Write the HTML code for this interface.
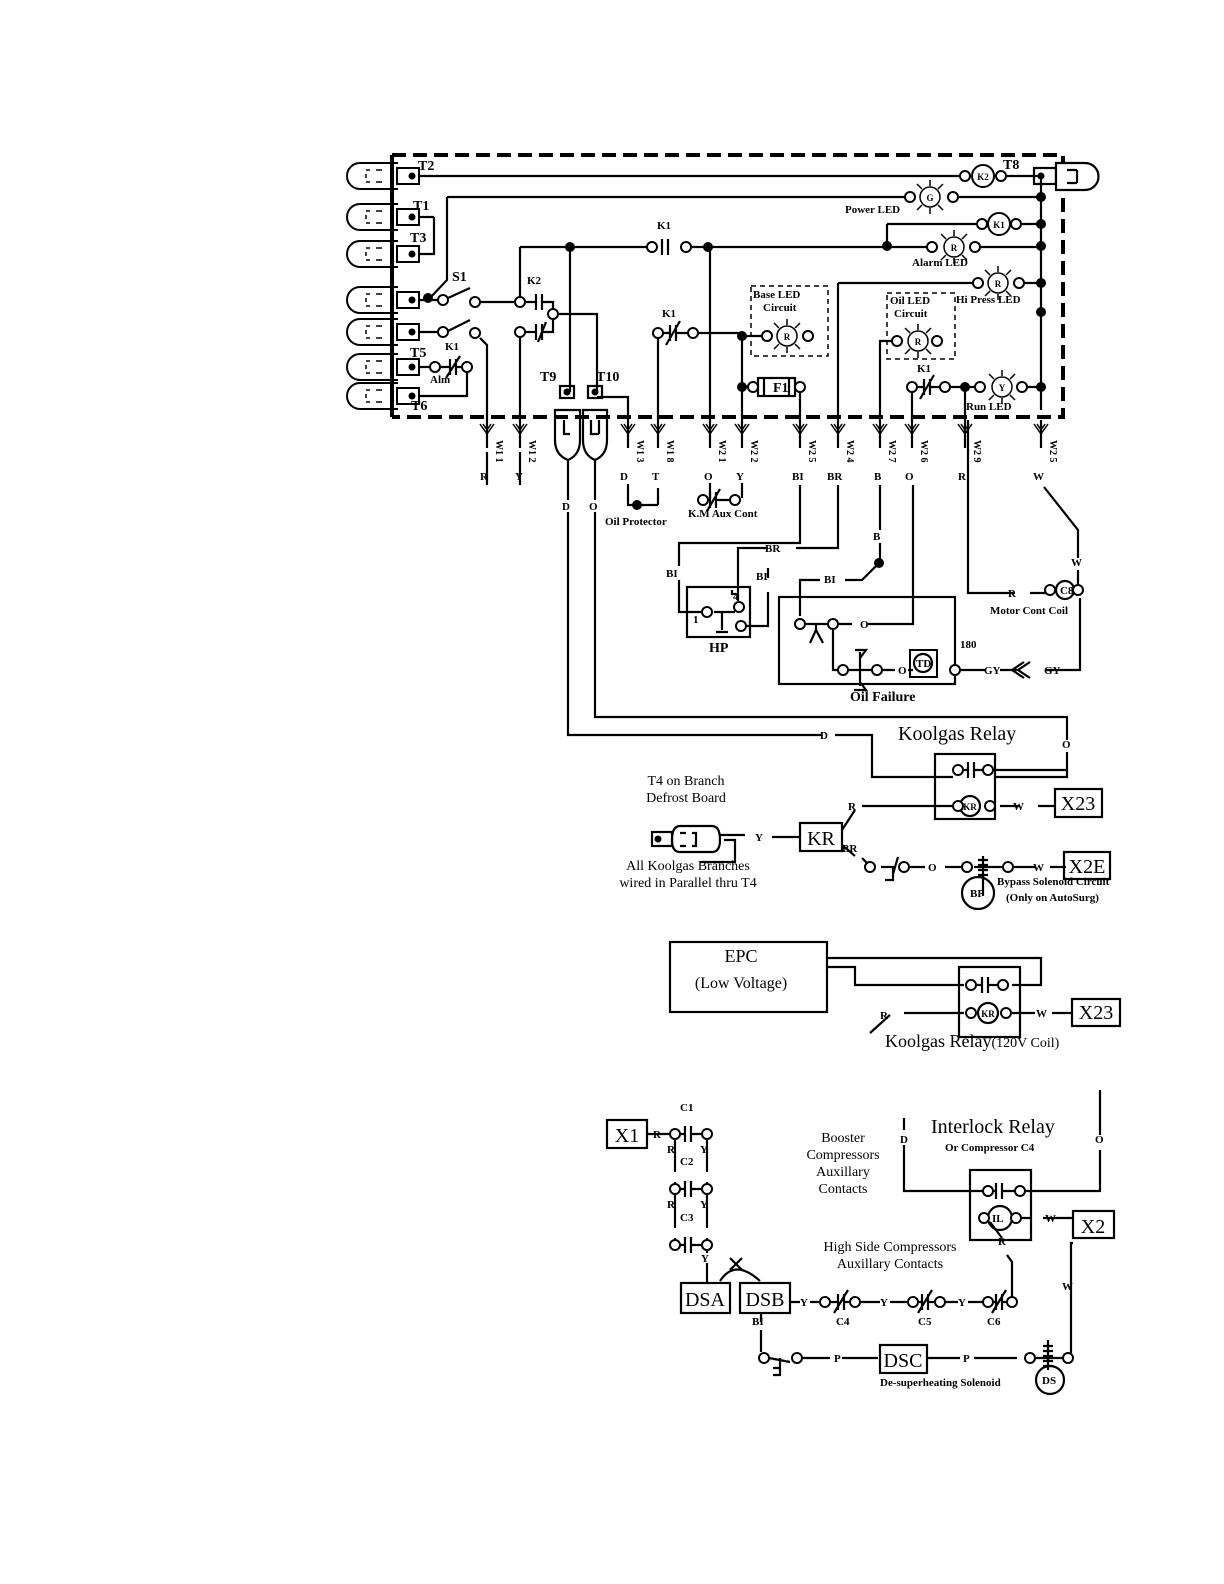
<!DOCTYPE html>
<html><head><meta charset="utf-8"><style>
body{margin:0;background:#fff}
svg{display:block}
text{font-family:"Liberation Serif",serif;fill:#000}
.s{font-size:11px;font-weight:bold}
.m{font-size:14px}
.b{font-size:20px}
.t{font-size:9px;font-weight:bold}
</style></head><body>
<svg width="1224" height="1584" viewBox="0 0 1224 1584" xmlns="http://www.w3.org/2000/svg">
<defs>
<g id="conn"><path d="M398,-13 H360 A13,13 0 0 0 360,13 H398" fill="none" stroke="#000" stroke-width="2"/><path d="M366,-6 h4 M376,-6 h6 M366,6 h4 M376,6 h6 M366,-2 v4" stroke="#000" stroke-width="1.5"/><rect x="397" y="-8" width="22" height="16" fill="#fff" stroke="#000" stroke-width="2"/><circle cx="412" cy="0" r="3.5"/></g>
<g id="fork"><path d="M-7,-8 L0,2 L7,-8 M-4,-8 L0,-2 L4,-8 M0,-10 V10" stroke="#000" stroke-width="1.5" fill="none"/></g>
<g id="led"><circle r="10" fill="#fff" stroke="#000" stroke-width="1.5"/><path d="M0,-11 v-6 M0,11 v6 M8,-8 l5,-5 M-8,-8 l-5,-5 M8,8 l5,5 M-8,8 l-5,5" stroke="#000" stroke-width="1.5"/></g>
</defs>
<g stroke="#000" stroke-width="2.2" fill="none">
<path d="M392,155 V417" stroke-width="4"/>
<path d="M392,155 H1063 V417 H392" stroke-width="4" stroke-dasharray="14,7"/>
<path d="M412,176 H960 M1006,176 H1041"/>
<path d="M447,197 H905 M958,197 H1041"/>
<path d="M447,197 V280 L430,298"/>
<path d="M1041,176 V410"/>
<path d="M887,224 H977 M1021,224 H1041 M887,224 V246"/>
<path d="M520,247 H647 M691,247 H927 M980,247 H1041"/>
<path d="M838,283 H973 M1024,283 H1041 M838,283 V420"/>
<path d="M434,217 V254 H412 M434,217 H412"/>
<path d="M412,300 H438 M448,298 L470,288 M412,332 H438 M448,331 L470,320 M479,302 H515 M480,338 L487,345 V420"/>
<path d="M520,247 V297 M525,302 H536 M536,294 V310 M542,294 V310 M542,302 H553 V309"/>
<path d="M525,332 H536 M536,324 V340 M542,324 V340 M538,342 L546,322 M542,332 H553 V319 M520,337 V420"/>
<path d="M558,314 H597 V392 M570,247 V392"/>
<path d="M412,367 H430 M440,367 H450 M450,359 V375 M456,359 V375 M446,378 L460,356 M456,367 H462 M467,372 V396 H412"/>
<path d="M662,239 V255 M668,239 V255"/>
<path d="M663,333 H670 M670,325 V341 M676,325 V341 M666,345 L680,321 M676,333 H688 M698,333 H742 M658,338 V420"/>
<path d="M742,333 V420 M742,336 H762 M710,247 V420"/>
<rect x="751" y="286" width="77" height="70" stroke-width="1.5" stroke-dasharray="5,4"/>
<rect x="887" y="293" width="68" height="66" stroke-width="1.5" stroke-dasharray="5,4"/>
<path d="M880,420 V341 H892"/>
<path d="M742,387 H753 M800,392 V420"/>
<rect x="758" y="378" width="37" height="18" fill="#fff"/>
<path d="M764,378 V396 M789,378 V396"/>
<path d="M912,392 V420 M917,387 H924 M924,379 V395 M930,379 V395 M920,399 L934,375 M930,387 H940 M950,387 H975 M1027,387 H1041 M965,387 V420"/>
<path d="M628,420 V397 H597"/>
<path d="M555,410 H580 V440 Q580,455 568,460 Q555,455 555,440 Z M583,410 H607 V440 Q607,455 595,460 Q583,455 583,440 Z"/>
<path d="M564,420 v14 h6 M591,420 v14 h8 M599,420 v14"/>
<rect x="560" y="386" width="14" height="12"/><rect x="588" y="386" width="14" height="12"/>
<rect x="1034" y="168" width="22" height="16"/>
<path d="M1056,163 H1085 A13,13 0 0 1 1085,190 H1056 Z" fill="#fff"/>
<path d="M1067,170 h10 M1067,183 h10 M1077,170 v13"/>
<path d="M487,420 V448 M520,420 V448 M628,420 V448 M658,420 V448 M710,420 V448 M742,420 V448 M800,420 V448 M838,420 V448 M880,420 V448 M912,420 V448 M965,420 V448 M1041,420 V448"/>
<path d="M487,485 V452 M520,485 V452 M658,488 V505 M628,484 V505 H658 M710,483 V498 M742,483 V498 M568,460 V500 M568,512 V735 H822 M835,735 H872 V777 H953 M595,460 V500 M595,512 V717 H1067 V740 M1067,752 V777 H995"/>
<path d="M703,500 H710 M710,492 V508 M716,492 V508 M707,511 L720,489 M716,500 H730"/>
<path d="M800,485 V543 H679 V566 M679,580 V612 H701 M838,485 V548 H796 M768,548 H738 V601 M880,485 V530 M880,543 V562 L862,580 H845 M820,580 H800 V616 M768,568 V578 M768,592 V626 H745"/>
<rect x="687" y="587" width="63" height="50"/>
<path d="M714,612 H735 M722,612 V630 M716,632 H728"/>
<path d="M736,594 h-4 v-4"/>
<rect x="779" y="597" width="176" height="87"/>
<path d="M805,624 H828 M816,624 V630 L810,643 M816,630 L823,643 M838,624 H852 M868,624 H913 V485 M833,629 V670 H838 M848,670 H872 M882,670 H895 M860,670 V652 M855,650 H866 L860,658 M860,670 V686 M854,690 H866 L860,682 M908,670 H913"/>
<rect x="910" y="650" width="27" height="27" stroke-width="2"/>
<circle cx="923" cy="663" r="9"/>
<path d="M960,670 H985 M1000,670 H1020 M1030,662 L1018,670 L1030,678 M1024,662 L1012,670 L1024,678 M1045,670 H1080 V598 M1078,558 V530 L1044,487"/>
<path d="M968,420 V593 H1015 M1030,593 H1046 M1078,588 V570"/>
<circle cx="1065" cy="590" r="9"/>
<rect x="935" y="754" width="60" height="65"/>
<path d="M958,770 H968 M968,762 V778 M974,762 V778 M974,770 H983 M995,770 H1067 M862,806 H955 M1000,806 H1020 M1038,806 H1055"/>
<circle cx="970" cy="806" r="10"/>
<rect x="1055" y="789" width="47" height="28"/>
<rect x="800" y="823" width="42" height="28"/>
<path d="M720,835 H745 M772,837 H800 M842,830 L855,810 M842,845 L855,856 M862,858 L870,866 M881,867 H895 M893,867 V880 H885 M893,874 L898,857 M909,867 H925 M945,867 H962 M974,867 H1002 M1014,867 H1035 M1050,867 H1066 M983,856 V896"/>
<path d="M978,860 h10 M978,865 h10 M978,870 h10 M978,875 h10"/>
<rect x="1064" y="852" width="46" height="27"/>
<circle cx="978" cy="893" r="16"/>
<path d="M703,826 H712 Q720,826 720,840 Q720,852 712,852 H680 Q672,852 672,840 Q672,826 680,826 Z"/>
<rect x="652" y="832" width="20" height="14"/>
<path d="M680,833 h6 M680,846 h6 M692,833 h4 v13 h-4"/>
<path d="M724,840 H735 V862 H700"/>
<rect x="670" y="942" width="157" height="70"/>
<path d="M827,958 H1041 V985 H1012 M827,967 H855 V985 H964 M976,985 H982 M982,977 V993 M988,977 V993 M988,985 H1000 M870,1033 L890,1015 M904,1013 H964 M1012,1013 H1035 M1052,1013 H1072"/>
<rect x="959" y="967" width="61" height="70"/>
<circle cx="988" cy="1013" r="10"/>
<rect x="1072" y="999" width="48" height="27"/>
<rect x="607" y="1120" width="40" height="28"/>
<path d="M647,1134 H672 M680,1134 H685 M685,1126 V1142 M691,1126 V1142 M691,1134 H702 M675,1139 V1172 M675,1182 V1186 M707,1139 V1172 M707,1182 V1186"/>
<path d="M680,1189 H685 M685,1181 V1197 M691,1181 V1197 M691,1189 H702 M675,1194 V1228 M675,1238 V1241 M707,1194 V1228 M707,1238 V1241"/>
<path d="M680,1245 H685 M685,1237 V1253 M691,1237 V1253 M691,1245 H702 M707,1250 V1253 M707,1263 V1282"/>
<path d="M720,1281 Q735,1258 760,1281 M730,1258 L742,1270 M742,1258 L730,1270"/>
<rect x="681" y="1283" width="49" height="30"/>
<rect x="740" y="1283" width="50" height="30"/>
<path d="M790,1302 H800 M810,1302 H820 M830,1302 H838 M838,1294 V1310 M844,1294 V1310 M834,1313 L848,1290 M844,1302 H850 M860,1302 H880 M890,1302 H908 M918,1302 H922 M922,1294 V1310 M928,1294 V1310 M918,1313 L932,1290 M928,1302 H935 M945,1302 H958 M968,1302 H983 M993,1302 H996 M996,1294 V1310 M1002,1294 V1310 M992,1313 L1006,1290 M1002,1302 H1007 M1012,1297 V1262 L1007,1255"/>
<path d="M761,1313 V1322 M761,1330 V1352 M769,1358 L790,1362 M780,1358 V1375 H773 M780,1368 H773 M797,1358 H830 M842,1358 H878 M927,1358 H960 M974,1358 H1017 M1035,1358 H1063 M1071,1353 V1243 H1073"/>
<path d="M1043,1346 h10 M1043,1351 h10 M1043,1356 h10 M1043,1361 h10 M1043,1366 h10 M1048,1340 V1370"/>
<circle cx="1050" cy="1380" r="14"/>
<rect x="880" y="1345" width="47" height="28"/>
<rect x="970" y="1170" width="61" height="70"/>
<path d="M904,1118 V1130 M904,1145 V1191 H983 M993,1191 H996 M996,1183 V1199 M1002,1183 V1199 M1002,1191 H1015 M1025,1191 H1100 V1150 M1100,1135 V1090 M1018,1218 H1030 M1062,1218 H1072 M990,1222 L1002,1238 M1067,1218 H1043"/>
<circle cx="1000" cy="1218" r="12"/>
<rect x="1073" y="1211" width="41" height="27"/>
</g>
<g fill="#fff" stroke="#000" stroke-width="2">
<circle cx="443" cy="300" r="5"/><circle cx="475" cy="302" r="5"/><circle cx="443" cy="332" r="5"/><circle cx="475" cy="333" r="5"/>
<circle cx="520" cy="302" r="5"/><circle cx="553" cy="314" r="5"/><circle cx="520" cy="332" r="5"/>
<circle cx="435" cy="367" r="5"/><circle cx="467" cy="367" r="5"/>
<circle cx="652" cy="247" r="5"/><circle cx="686" cy="247" r="5"/>
<circle cx="658" cy="333" r="5"/><circle cx="693" cy="333" r="5"/>
<circle cx="965" cy="176" r="5"/><circle cx="1001" cy="176" r="5"/><circle cx="983" cy="176" r="11"/>
<circle cx="910" cy="197" r="5"/><circle cx="953" cy="197" r="5"/>
<circle cx="982" cy="224" r="5"/><circle cx="1016" cy="224" r="5"/><circle cx="999" cy="224" r="11"/>
<circle cx="932" cy="247" r="5"/><circle cx="975" cy="247" r="5"/>
<circle cx="978" cy="283" r="5"/><circle cx="1019" cy="283" r="5"/>
<circle cx="767" cy="336" r="5"/><circle cx="808" cy="336" r="5"/>
<circle cx="897" cy="341" r="5"/><circle cx="937" cy="341" r="5"/>
<circle cx="753" cy="387" r="5"/><circle cx="800" cy="387" r="5"/>
<circle cx="912" cy="387" r="5"/><circle cx="945" cy="387" r="5"/><circle cx="980" cy="387" r="5"/><circle cx="1022" cy="387" r="5"/>
<circle cx="703" cy="500" r="5"/><circle cx="735" cy="500" r="5"/>
<circle cx="707" cy="612" r="5"/><circle cx="739" cy="607" r="5"/><circle cx="741" cy="626" r="5"/>
<circle cx="800" cy="624" r="5"/><circle cx="833" cy="624" r="5"/><circle cx="843" cy="670" r="5"/><circle cx="877" cy="670" r="5"/><circle cx="955" cy="670" r="5"/>
<circle cx="1050" cy="590" r="5"/><circle cx="1078" cy="590" r="5"/>
<circle cx="958" cy="770" r="5"/><circle cx="988" cy="770" r="5"/><circle cx="958" cy="806" r="5"/><circle cx="990" cy="806" r="5"/>
<circle cx="870" cy="867" r="5"/><circle cx="904" cy="867" r="5"/><circle cx="967" cy="867" r="5"/><circle cx="1008" cy="867" r="5"/>
<circle cx="971" cy="985" r="5"/><circle cx="1003" cy="985" r="5"/><circle cx="971" cy="1013" r="5"/><circle cx="1006" cy="1013" r="5"/>
<circle cx="675" cy="1134" r="5"/><circle cx="707" cy="1134" r="5"/><circle cx="675" cy="1189" r="5"/><circle cx="707" cy="1189" r="5"/><circle cx="675" cy="1245" r="5"/><circle cx="707" cy="1245" r="5"/>
<circle cx="825" cy="1302" r="5"/><circle cx="855" cy="1302" r="5"/><circle cx="913" cy="1302" r="5"/><circle cx="940" cy="1302" r="5"/><circle cx="988" cy="1302" r="5"/><circle cx="1012" cy="1302" r="5"/>
<circle cx="764" cy="1358" r="5"/><circle cx="797" cy="1358" r="5"/><circle cx="1030" cy="1358" r="5"/><circle cx="1068" cy="1358" r="5"/>
<circle cx="988" cy="1191" r="5"/><circle cx="1020" cy="1191" r="5"/><circle cx="984" cy="1218" r="5"/><circle cx="1016" cy="1218" r="5"/>
</g>
<use href="#led" x="930" y="197"/><use href="#led" x="954" y="247"/><use href="#led" x="998" y="283"/><use href="#led" x="787" y="336"/><use href="#led" x="918" y="341"/><use href="#led" x="1002" y="387"/>
<g>
<circle cx="428" cy="298" r="5"/><circle cx="570" cy="247" r="5"/><circle cx="708" cy="247" r="5"/><circle cx="887" cy="246" r="5"/>
<circle cx="1041" cy="197" r="5"/><circle cx="1041" cy="224" r="5"/><circle cx="1041" cy="246" r="5"/><circle cx="1041" cy="283" r="5"/><circle cx="1041" cy="312" r="5"/><circle cx="1041" cy="387" r="5"/>
<circle cx="742" cy="336" r="5"/><circle cx="742" cy="387" r="5"/><circle cx="965" cy="387" r="5"/><circle cx="1041" cy="176" r="3.5"/>
<circle cx="567" cy="392" r="3.5"/><circle cx="595" cy="392" r="3.5"/><circle cx="637" cy="505" r="5"/><circle cx="879" cy="563" r="5"/><circle cx="658" cy="839" r="3.5"/>
</g>
<use href="#conn" y="176"/><use href="#conn" y="217"/><use href="#conn" y="254"/><use href="#conn" y="300"/><use href="#conn" y="332"/><use href="#conn" y="367"/><use href="#conn" y="396"/>
<g>
<use href="#fork" x="487" y="432"/><use href="#fork" x="520" y="432"/><use href="#fork" x="628" y="432"/><use href="#fork" x="658" y="432"/><use href="#fork" x="710" y="432"/><use href="#fork" x="742" y="432"/><use href="#fork" x="800" y="432"/><use href="#fork" x="838" y="432"/><use href="#fork" x="880" y="432"/><use href="#fork" x="912" y="432"/><use href="#fork" x="965" y="432"/><use href="#fork" x="1041" y="432"/>
</g>
<g class="t" text-anchor="middle">
<text x="983" y="180">K2</text><text x="999" y="228">K1</text><text x="930" y="201">G</text><text x="954" y="251">R</text><text x="998" y="287">R</text><text x="787" y="340">R</text><text x="918" y="345">R</text><text x="1002" y="391">Y</text><text x="970" y="810">KR</text><text x="988" y="1017">KR</text>
</g>
<g class="s">
<text x="418" y="170" class="m">T2</text><text x="413" y="210" class="m">T1</text><text x="410" y="242" class="m">T3</text>
<text x="452" y="281" class="m">S1</text><text x="527" y="284">K2</text><text x="410" y="357" class="m">T5</text><text x="445" y="350">K1</text><text x="430" y="383">Alm</text><text x="411" y="410" class="m">T6</text>
<text x="540" y="381" class="m">T9</text><text x="596" y="381" class="m">T10</text>
<text x="657" y="229">K1</text><text x="662" y="317">K1</text><text x="1003" y="169" class="m">T8</text>
<text x="845" y="213">Power LED</text><text x="912" y="266">Alarm LED</text><text x="956" y="303">Hi Press LED</text><text x="966" y="410">Run LED</text>
<text x="753" y="298">Base LED</text><text x="763" y="311">Circuit</text><text x="890" y="304">Oil LED</text><text x="894" y="317">Circuit</text><text x="917" y="372">K1</text>
<text x="773" y="392" class="m">F1</text>
<text x="480" y="480">R</text><text x="515" y="480">Y</text><text x="620" y="480">D</text><text x="652" y="480">T</text><text x="704" y="480">O</text><text x="736" y="480">Y</text><text x="792" y="480">BI</text><text x="827" y="480">BR</text><text x="874" y="480">B</text><text x="905" y="480">O</text><text x="958" y="480">R</text><text x="1033" y="480">W</text>
<text x="562" y="510">D</text><text x="589" y="510">O</text>
<text x="605" y="525">Oil Protector</text><text x="688" y="517">K.M Aux Cont</text>
<text x="666" y="577">BI</text><text x="765" y="552">BR</text><text x="756" y="580">BI</text><text x="824" y="583">BI</text><text x="873" y="540">B</text>
<text x="709" y="652" class="m">HP</text><text x="693" y="623">1</text><text x="733" y="600">4</text><text x="860" y="628">O</text><text x="898" y="674">O</text><text x="916" y="667">TD</text><text x="960" y="648">180</text>
<text x="850" y="701" class="m">Oil Failure</text><text x="984" y="674">GY</text><text x="1044" y="674">GY</text><text x="1008" y="597">R</text><text x="1060" y="594">C8</text><text x="990" y="614">Motor Cont Coil</text><text x="1071" y="566">W</text>
<text x="820" y="739">D</text><text x="1062" y="748">O</text>
<text x="848" y="810">R</text><text x="842" y="852">BR</text><text x="755" y="841">Y</text><text x="1013" y="810">W</text><text x="1033" y="871">W</text><text x="928" y="871">O</text><text x="970" y="897">BP</text>
<text x="997" y="885">Bypass Solenoid Circuit</text><text x="1006" y="901">(Only on AutoSurg)</text>
<text x="880" y="1019">R</text><text x="1036" y="1017">W</text>
<text x="653" y="1138">R</text><text x="680" y="1111">C1</text><text x="667" y="1153">R</text><text x="700" y="1153">Y</text><text x="680" y="1165">C2</text><text x="667" y="1208">R</text><text x="700" y="1208">Y</text><text x="680" y="1221">C3</text><text x="701" y="1262">Y</text>
<text x="800" y="1306">Y</text><text x="880" y="1306">Y</text><text x="958" y="1306">Y</text><text x="836" y="1325">C4</text><text x="918" y="1325">C5</text><text x="987" y="1325">C6</text><text x="998" y="1245">R</text>
<text x="752" y="1325">BI</text><text x="834" y="1362">P</text><text x="963" y="1362">P</text><text x="1062" y="1290">W</text><text x="1045" y="1222">W</text>
<text x="900" y="1143">D</text><text x="1095" y="1143">O</text><text x="992" y="1222">IL</text><text x="1042" y="1384">DS</text>
<text x="880" y="1386">De-superheating Solenoid</text><text x="945" y="1151">Or Compressor C4</text>
</g>
<g class="m" text-anchor="middle">
<text x="686" y="785">T4 on Branch</text><text x="686" y="802">Defrost Board</text>
<text x="688" y="870">All Koolgas Branches</text><text x="688" y="887">wired in Parallel thru T4</text>
<text x="843" y="1142">Booster</text><text x="843" y="1159">Compressors</text><text x="843" y="1176">Auxillary</text><text x="843" y="1193">Contacts</text>
<text x="890" y="1251">High Side Compressors</text><text x="890" y="1268">Auxillary Contacts</text>
<text x="741" y="962" style="font-size:18px">EPC</text><text x="741" y="988" style="font-size:16px">(Low Voltage)</text>
</g>
<text x="898" y="740" class="b">Koolgas Relay</text>
<text x="885" y="1047" style="font-size:18px">Koolgas Relay<tspan style="font-size:14px">(120V Coil)</tspan></text>
<text x="931" y="1133" class="b">Interlock Relay</text>
<text x="1078" y="810" class="b" text-anchor="middle">X23</text><text x="1096" y="1019" class="b" text-anchor="middle">X23</text><text x="1087" y="873" class="b" text-anchor="middle">X2E</text>
<text x="821" y="845" class="b" text-anchor="middle">KR</text>
<text x="627" y="1142" class="b" text-anchor="middle">X1</text><text x="1093" y="1233" class="b" text-anchor="middle">X2</text>
<text x="705" y="1306" class="b" text-anchor="middle">DSA</text><text x="765" y="1306" class="b" text-anchor="middle">DSB</text><text x="903" y="1367" class="b" text-anchor="middle">DSC</text>
<g font-size="10" font-weight="bold">
<text transform="translate(496,440) rotate(90)">W1 1</text><text transform="translate(529,440) rotate(90)">W1 2</text><text transform="translate(637,440) rotate(90)">W1 3</text><text transform="translate(667,440) rotate(90)">W1 8</text><text transform="translate(719,440) rotate(90)">W2 1</text><text transform="translate(751,440) rotate(90)">W2 2</text><text transform="translate(809,440) rotate(90)">W2 5</text><text transform="translate(847,440) rotate(90)">W2 4</text><text transform="translate(889,440) rotate(90)">W2 7</text><text transform="translate(921,440) rotate(90)">W2 6</text><text transform="translate(974,440) rotate(90)">W2 9</text><text transform="translate(1050,440) rotate(90)">W2 5</text>
</g>
</svg>
</body></html>
